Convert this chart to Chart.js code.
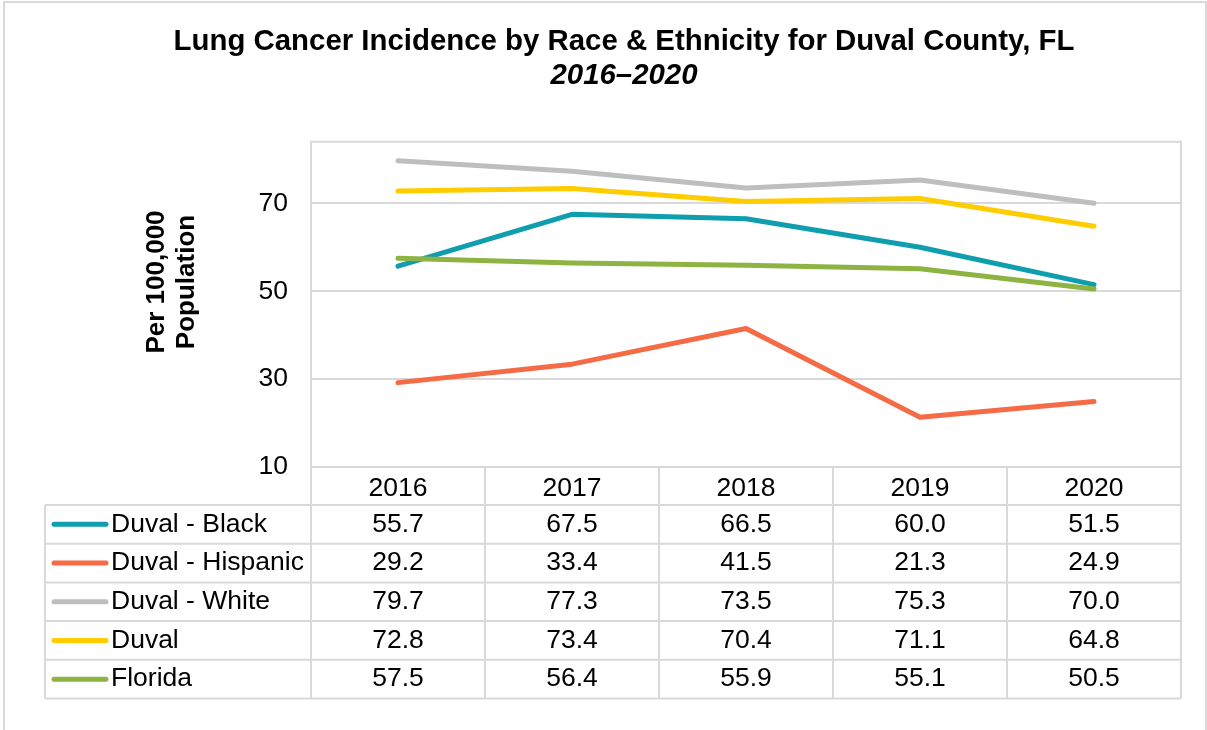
<!DOCTYPE html>
<html>
<head>
<meta charset="utf-8">
<title>Lung Cancer Incidence - Duval County</title>
<script src="https://cdn.jsdelivr.net/npm/chart.js@4"></script>
<style>
    body { margin: 0; background: #fff; }
    #wrap { position: relative; width: 1207px; height: 730px; overflow: hidden; }
    #frame {
        position: absolute; left: 3px; top: 1px; width: 1204px; height: 760px;
        border: 2px solid #d9d9d9; box-sizing: border-box; pointer-events: none;
    }
    canvas { position: absolute; left: 0; top: 0; }
</style>
</head>
<body>
<div id="wrap">
    <canvas id="chart" width="1207" height="730"></canvas>
    <div id="frame"></div>
</div>
<script>
// Chart data
const years = ['2016', '2017', '2018', '2019', '2020'];
const seriesNames = ['Duval - Black', 'Duval - Hispanic', 'Duval - White', 'Duval', 'Florida'];
const duvalBlack = [55.7, 67.5, 66.5, 60.0, 51.5];
const duvalHispanic = [29.2, 33.4, 41.5, 21.3, 24.9];
const duvalWhite = [79.7, 77.3, 73.5, 75.3, 70.0];
const duvalAll = [72.8, 73.4, 70.4, 71.1, 64.8];
const florida = [57.5, 56.4, 55.9, 55.1, 50.5];
const yTicks = [10, 30, 50, 70];

const colors = ['#0f9ead', '#f46b45', '#bdbec0', '#ffcc00', '#8db443'];
const gridColor = '#d9d9d9';
const FONT = '"Liberation Sans", Arial, sans-serif';

const allSeries = [duvalBlack, duvalHispanic, duvalWhite, duvalAll, florida];

// Y axis title, drawn by hand so it can sit where Excel put it
const yTitlePlugin = {
    id: 'yTitle',
    afterDraw(chart) {
        const ctx = chart.ctx;
        ctx.save();
        ctx.translate(157, 282);
        ctx.rotate(-Math.PI / 2);
        ctx.font = 'bold 26px ' + FONT;
        ctx.fillStyle = '#000';
        ctx.textAlign = 'center';
        ctx.textBaseline = 'middle';
        ctx.fillText('Per 100,000', 0, 0);
        ctx.fillText('Population', 0, 30);
        ctx.restore();
    }
};

// Plot border and data table under the x axis
const tablePlugin = {
    id: 'dataTable',
    afterDraw(chart) {
        const ctx = chart.ctx;
        const area = chart.chartArea;
        const x = chart.scales.x;
        const rowH = 38.7;
        const legendLeft = 45;
        const headerBottom = x.bottom;
        const tableBottom = headerBottom + rowH * allSeries.length;

        // column boundaries
        const bounds = [area.left];
        for (let i = 1; i < years.length; i++) {
            bounds.push((x.getPixelForValue(i - 1) + x.getPixelForValue(i)) / 2);
        }
        bounds.push(area.right);

        ctx.save();
        ctx.strokeStyle = gridColor;
        ctx.lineWidth = 2;
        ctx.beginPath();
        // plot box
        ctx.rect(area.left, area.top, area.right - area.left, area.bottom - area.top);
        // vertical lines through the table
        bounds.forEach(bx => {
            ctx.moveTo(bx, area.bottom);
            ctx.lineTo(bx, tableBottom);
        });
        ctx.moveTo(legendLeft, headerBottom);
        ctx.lineTo(legendLeft, tableBottom);
        // row lines
        for (let r = 0; r <= allSeries.length; r++) {
            const y = headerBottom + r * rowH;
            ctx.moveTo(legendLeft, y);
            ctx.lineTo(area.right, y);
        }
        ctx.stroke();

        // rows
        ctx.font = '26.5px ' + FONT;
        ctx.textBaseline = 'middle';
        allSeries.forEach((values, r) => {
            const cy = headerBottom + r * rowH + rowH / 2;

            ctx.strokeStyle = colors[r];
            ctx.lineWidth = 5;
            ctx.lineCap = 'round';
            ctx.beginPath();
            ctx.moveTo(54, cy);
            ctx.lineTo(106, cy);
            ctx.stroke();

            ctx.fillStyle = '#000';
            ctx.textAlign = 'left';
            ctx.fillText(seriesNames[r], 111, cy);

            ctx.textAlign = 'center';
            values.forEach((v, i) => {
                ctx.fillText(v.toFixed(1), x.getPixelForValue(i), cy);
            });
        });
        ctx.restore();
    }
};

const ctx = document.getElementById('chart').getContext('2d');

new Chart(ctx, {
    type: 'line',
    data: {
        labels: years,
        datasets: allSeries.map((values, i) => ({
            label: seriesNames[i],
            data: values,
            borderColor: colors[i],
            backgroundColor: colors[i],
            borderWidth: 5,
            borderCapStyle: 'round',
            borderJoinStyle: 'round',
            pointRadius: 0,
            tension: 0,
            order: allSeries.length - i
        }))
    },
    options: {
        responsive: false,
        animation: false,
        devicePixelRatio: 1,
        layout: {
            padding: { left: 67, right: 26, top: 0, bottom: 225 }
        },
        plugins: {
            legend: { display: false },
            tooltip: { enabled: false },
            title: {
                display: true,
                text: 'Lung Cancer Incidence by Race & Ethnicity for Duval County, FL',
                color: '#000',
                font: { family: FONT, size: 29.4, weight: 'bold', lineHeight: 1 },
                padding: { top: 27.5, bottom: 0 }
            },
            subtitle: {
                display: true,
                text: '2016\u20132020',
                color: '#000',
                font: { family: FONT, size: 29.4, weight: 'bold', style: 'italic', lineHeight: 1 },
                padding: { top: 4, bottom: 51.5 }
            }
        },
        scales: {
            x: {
                type: 'category',
                offset: true,
                grid: { display: false },
                border: { display: false },
                ticks: {
                    color: '#000',
                    font: { family: FONT, size: 26.5 },
                    padding: -2,
                    maxRotation: 0
                },
                afterFit: scale => { scale.height = 38; }
            },
            y: {
                min: 10,
                max: 84,
                grid: { color: gridColor, lineWidth: 2, drawTicks: false },
                border: { display: false },
                ticks: {
                    stepSize: 20,
                    includeBounds: false,
                    padding: 23,
                    color: '#000',
                    font: { family: FONT, size: 26.5 }
                },
                afterBuildTicks: scale => {
                    scale.ticks = yTicks.map(v => ({ value: v }));
                },
                afterFit: scale => { scale.width = 244; }
            }
        }
    },
    plugins: [yTitlePlugin, tablePlugin]
});
</script>
</body>
</html>
